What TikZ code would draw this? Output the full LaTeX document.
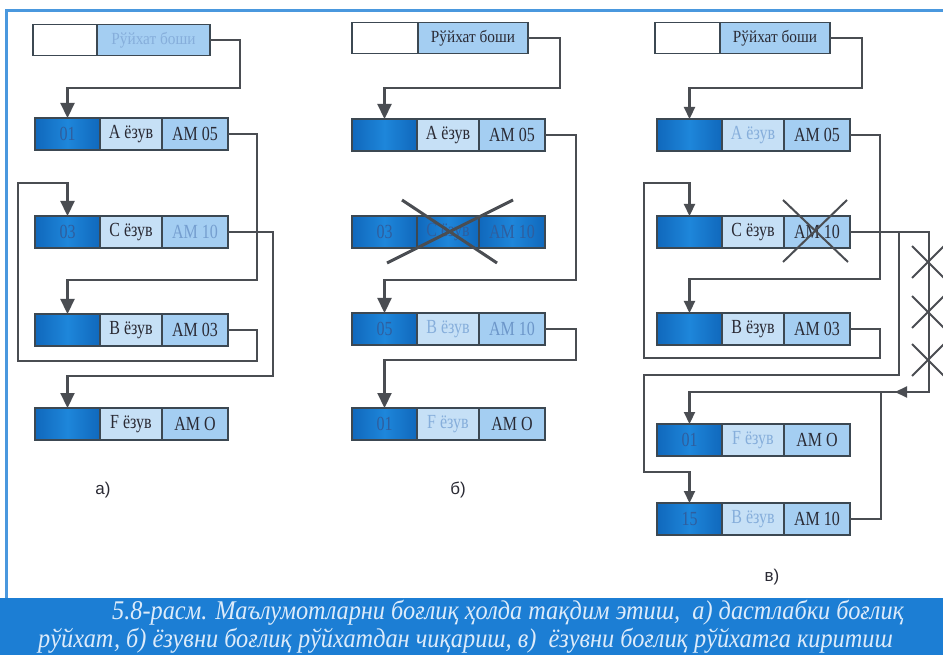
\documentclass[tikz,border=0pt]{standalone}
\usepackage{fontspec}
\setmainfont{Liberation Serif}
\newfontfamily\lblfont{Liberation Sans}
\newfontfamily\capfont[FakeStretch=0.9]{Liberation Serif}
\newfontfamily\cellfont[FakeStretch=0.8]{Liberation Serif}
\newfontfamily\headfont[FakeStretch=0.9]{Liberation Serif}
\usetikzlibrary{arrows.meta}
\definecolor{dkb}{HTML}{1068BC}
\definecolor{dkbl}{HTML}{1E86DA}
\definecolor{ltb}{HTML}{C6E0F6}
\definecolor{amb}{HTML}{A4CEF2}
\definecolor{edge}{HTML}{3C4852}
\definecolor{wire}{HTML}{4A4D52}
\definecolor{frameb}{HTML}{4A98DE}
\definecolor{capb}{HTML}{1C7ED4}
\definecolor{capt}{HTML}{DCEBFA}
\definecolor{faint}{HTML}{86AEDB}
\definecolor{dktxt}{HTML}{2F5E9E}
\definecolor{txt}{HTML}{2A2A34}
\newcommand\rec[6]{%
  \node[dk] (#1d) at (#2,#3) {#4};
  \node[lt] (#1l) at (#1d.east) {#5};
  \node[am] (#1m) at (#1l.east) {#6};}
\begin{document}
\begin{tikzpicture}[x=1pt,y=-1pt,
  cell/.style={draw=edge, line width=1.8pt, minimum height=32pt, inner sep=0pt, outer sep=0pt, font=\cellfont\fontsize{20}{22}\selectfont, text=txt, anchor=west},
  dk/.style={cell, left color=dkb, right color=dkb, middle color=dkbl, text=dktxt, minimum width=65pt},
  lt/.style={cell, fill=ltb, minimum width=62pt},
  am/.style={cell, fill=amb, minimum width=66pt},
  wh/.style={cell, fill=white, minimum width=#1, minimum height=31pt},
  hd/.style={cell, fill=amb, minimum width=#1, minimum height=31pt, font=\headfont\fontsize{17}{19}\selectfont},
  wirep/.style={draw=wire, line width=2.2pt},
  arr/.style={wirep, -{Triangle[width=14pt,length=15pt]}},
  sarr/.style={wirep, -{Triangle[width=11pt,length=12pt]}},
  cross/.style={draw=wire, line width=2.6pt},
  lbl/.style={font=\lblfont\fontsize{17}{19}\selectfont, text=txt},
  captxt/.style={anchor=west, text=capt, font=\capfont\itshape\fontsize{27}{29}\selectfont, inner sep=0pt},
]
\useasboundingbox (0,0) rectangle (943,655);
\clip (0,0) rectangle (943,655);
\fill[white] (0,0) rectangle (943,655);
\draw[frameb, line width=3pt] (6,598) -- (6,11) -- (943,11);

% ---------- panel a ----------
\node[wh=64pt] (ah0) at (33,40) {};
\node[hd=113pt] (ah) at (ah0.east) {\color{faint}Рўйхат боши};
\rec{aA}{35}{134}{01}{А ёзув}{АМ 05}
\rec{aC}{35}{232}{03}{С ёзув}{\color{faint!80!dktxt}АМ 10}
\rec{aB}{35}{330}{}{В ёзув}{АМ 03}
\rec{aF}{35}{424}{}{F ёзув}{АМ О}
\draw[arr] (ah.east) -- ++(30,0) -- ++(0,48) -| (aAd.north);
\draw[arr] (aAm.east) -- ++(29,0) -- ++(0,146) -| (aBd.north);
\draw[arr] (aCm.east) -- ++(45,0) -- ++(0,144) -| (aFd.north);
\draw[arr] (aBm.east) -- ++(29,0) -- ++(0,31) -- ++(-239,0) -- ++(0,-178) -| (aCd.north);
\node[lbl] (la) at (103,490) {а)};

% ---------- panel b ----------
\node[wh=66pt] (bh0) at (352,38) {};
\node[hd=110pt] (bh) at (bh0.east) {Рўйхат боши};
\rec{bA}{352}{135}{}{А ёзув}{АМ 05}
\node[dk] (bCd) at (352,232) {03};
\node[dk, minimum width=62pt] (bCl) at (bCd.east) {С ёзув};
\node[dk, minimum width=66pt] (bCm) at (bCl.east) {АМ 10};
\rec{bB}{352}{329}{05}{\color{faint}В ёзув}{\color{faint!70!dktxt}АМ 10}
\rec{bF}{352}{424}{01}{\color{faint}F ёзув}{АМ О}
\draw[arr] (bh.east) -- ++(32,0) -- ++(0,50) -| (bAd.north);
\draw[arr] (bAm.east) -- ++(31,0) -- ++(0,145) -| (bBd.north);
\draw[arr] (bBm.east) -- ++(31,0) -- ++(0,31) -| (bFd.north);
\draw[cross, line width=3pt] (402,200) -- (497,263) (513,200) -- (387,263);
\node[lbl] (lb) at (458,490) {б)};

% ---------- panel c ----------
\node[wh=65pt] (ch0) at (655,38) {};
\node[hd=110pt] (ch) at (ch0.east) {Рўйхат боши};
\rec{cA}{657}{135}{}{\color{faint}А ёзув}{АМ 05}
\rec{cC}{657}{232}{}{С ёзув}{АМ 10}
\rec{cB}{657}{329}{}{В ёзув}{АМ 03}
\rec{cF}{657}{440}{01}{\color{faint}F ёзув}{АМ О}
\rec{cN}{657}{519}{15}{\color{faint}В ёзув}{АМ 10}
\draw[sarr] (ch.east) -- ++(32,0) -- ++(0,50) -| (cAd.north);
\draw[sarr] (cAm.east) -- ++(30,0) -- ++(0,144) -| (cBd.north);
\draw[sarr] (cBm.east) -- ++(30,0) -- ++(0,29) -- ++(-236,0) -- ++(0,-175) -| (cCd.north);
\draw[sarr] (cCm.east) -- ++(79,0) -- ++(0,160) coordinate (cj) -| (cFd.north);
\draw[sarr] (cj) -- ++(-34,0);
\draw[sarr] (cCm.east) -- ++(49,0) -- ++(0,143) -- ++(-255,0) -- ++(0,97) -| (cNd.north);
\draw[wirep] (cNm.east) -- ++(31,0) -- ++(0,-127);
\draw[cross, line width=2pt] (783,200) -- (848,262) (847,200) -- (783,262);
\foreach \cy in {262,312,360}
  \draw[cross, line width=2pt] (912,\cy-16) -- (944,\cy+16) (944,\cy-16) -- (912,\cy+16);
\node[lbl] (lc) at (772,577) {в)};

% ---------- caption ----------
\fill[capb] (0,598) rectangle (943,655);
\node[captxt] (cap1) at (112,613)
  {5.8-расм. Маълумотларни боғлиқ ҳолда тақдим этиш,\ \ а) дастлабки боғлиқ};
\node[captxt] (cap2) at (38,641)
  {рўйхат, б) ёзувни боғлиқ рўйхатдан чиқариш, в)\ \ ёзувни боғлиқ рўйхатга киритиш};
\end{tikzpicture}
\end{document}
